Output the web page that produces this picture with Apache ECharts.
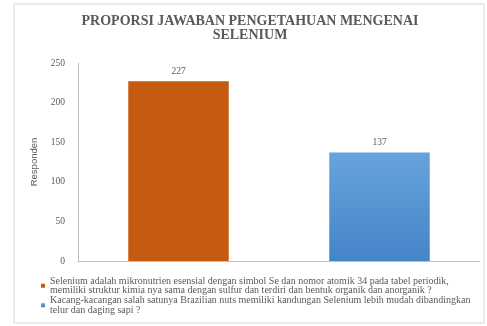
<!DOCTYPE html>
<html>
<head>
<meta charset="utf-8">
<script src="https://cdn.jsdelivr.net/npm/echarts@6/dist/echarts.min.js"></script>
<style>
html, body { margin: 0; padding: 0; background: #fff; }
#chart { width: 487px; height: 326px; }
</style>
</head>
<body>
<div id="chart"></div>
<script>
var categories = [
	"Selenium adalah mikronutrien esensial dengan simbol Se dan nomor atomik 34 pada tabel periodik, memiliki struktur kimia nya sama dengan sulfur dan terdiri dan bentuk organik dan anorganik ?",
	"Kacang-kacangan salah satunya Brazilian nuts memiliki kandungan Selenium lebih mudah dibandingkan telur dan daging sapi ?"
];
var values = [227, 137];
var yTicks = [0, 50, 100, 150, 200, 250];
var titleText = "PROPORSI JAWABAN PENGETAHUAN MENGENAI\nSELENIUM";
var yName = "Responden";

var colors = [
	"#C55A11",
	new echarts.graphic.LinearGradient(0, 0, 0, 1, [
		{ offset: 0, color: "#67A3DD" },
		{ offset: 1, color: "#4484C8" }
	])
];
var legendColors = ["#C55A11", "#5B9BD5"];

// one series per bar so each gets its own legend entry
var series = [];
for (var i = 0; i < categories.length; i++) {
	var d = [];
	for (var j = 0; j < values.length; j++) {
		d.push(j == i ? values[j] : null);
	}
	series.push({
		name: categories[i],
		type: "bar",
		data: d,
		barWidth: "50%",
		barGap: "-100%",
		itemStyle: { color: colors[i] },
		label: {
			show: true,
			position: "top",
			distance: 5,
			color: "#595959",
			fontFamily: "Liberation Serif",
			fontSize: 9.5
		}
	});
}

var chart = echarts.init(document.getElementById("chart"));
chart.setOption({
	backgroundColor: "#fff",
	animation: false,
	color: legendColors,
	graphic: [{
		type: "rect",
		shape: { x: 14, y: 4, width: 470, height: 319 },
		style: { fill: "none", stroke: "#d9d9d9", lineWidth: 1 },
		silent: true
	}],
	title: {
		text: titleText,
		left: 245,
		textAlign: "center",
		top: 9,
		textStyle: {
			fontFamily: "Liberation Serif",
			fontWeight: "bold",
			fontSize: 14,
			color: "#595959",
			lineHeight: 14
		}
	},
	legend: {
		orient: "vertical",
		left: 36,
		top: 271,
		itemWidth: 4,
		itemHeight: 4,
		itemGap: 0,
		icon: "rect",
		textStyle: {
			fontFamily: "Liberation Serif",
			fontSize: 10,
			color: "#595959",
			lineHeight: 9.5,
			width: 432,
			overflow: "break"
		}
	},
	grid: { left: 78, right: 7, top: 63, bottom: 65, containLabel: false },
	xAxis: {
		type: "category",
		data: ["", ""],
		axisLine: { lineStyle: { color: "#bfbfbf" } },
		axisTick: { show: false },
		axisLabel: { show: false }
	},
	yAxis: {
		type: "value",
		min: yTicks[0],
		max: yTicks[yTicks.length - 1],
		interval: 50,
		name: yName,
		nameLocation: "middle",
		nameGap: 39,
		nameTextStyle: { fontFamily: "Liberation Sans", fontSize: 9.5, color: "#595959" },
		axisLine: { show: true, lineStyle: { color: "#bfbfbf" } },
		axisTick: { show: false },
		splitLine: { show: false },
		axisLabel: { fontFamily: "Liberation Serif", fontSize: 9.5, color: "#595959", margin: 13 }
	},
	series: series
});
</script>
</body>
</html>
